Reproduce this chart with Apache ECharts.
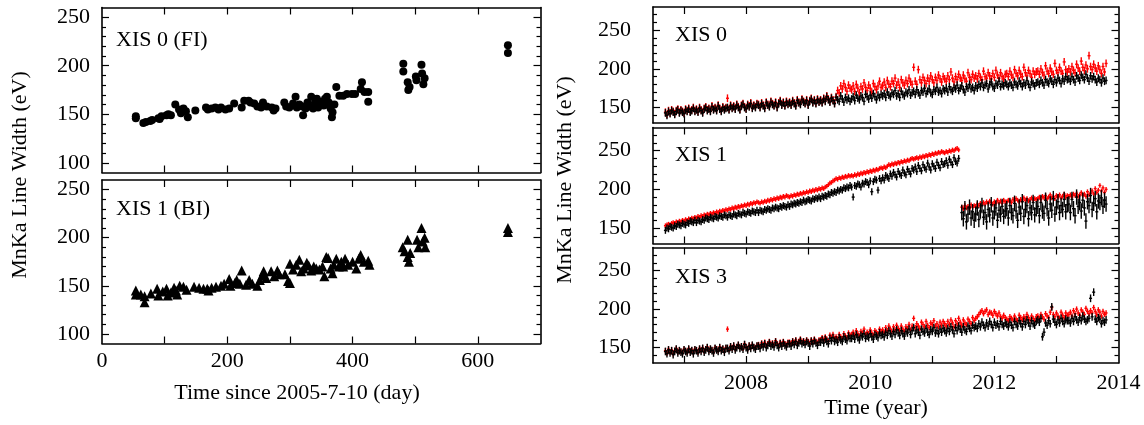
<!DOCTYPE html>
<html><head><meta charset="utf-8">
<script src="https://cdn.jsdelivr.net/npm/echarts@6/dist/echarts.min.js"></script>
<style>html,body{margin:0;padding:0;background:#fff}#chart{width:1144px;height:425px}</style>
</head><body><div id="chart"></div><script>
// ---------- Left panels: MnKa line width vs days since 2005-7-10 ----------
const xis0FiPoints = [[54,148],[54,146],[66,141],[70,142],[77,143],[80,144],[90,146],[92,145],[95,148],[103,149],[106,150],[110,149],[117,160],[123,155],[126,151],[130,156],[134,153],[137,147],[149,154],[166,157],[169,155],[175,156],[181,157],[186,155],[190,157],[197,155],[203,156],[211,161],[223,157],[227,164],[234,164],[237,162],[243,161],[248,158],[254,157],[257,162],[263,158],[271,157],[274,154],[277,156],[291,162],[294,158],[299,157],[305,161],[309,168],[311,157],[315,160],[320,158],[321,149],[325,156],[328,162],[331,158],[334,168],[337,156],[340,162],[343,166],[345,157],[348,163],[351,162],[354,159],[356,166],[359,168],[360,160],[362,162],[365,156],[368,152],[367,147],[371,160],[374,178],[379,169],[385,169],[391,171],[399,171],[404,171],[413,176],[419,173],[415,183],[425,163],[425,173],[481,202],[481,194],[488,183],[489,175],[491,178],[501,189],[502,185],[510,201],[511,192],[513,181],[515,187],[648,221],[648,213]];
const xis1BiPoints = [[54,145],[54,141],[62,141],[68,133],[68,139],[78,142],[88,147],[90,140],[97,144],[103,147],[105,140],[110,143],[115,148],[118,145],[120,141],[124,150],[130,149],[135,146],[147,149],[155,148],[162,147],[168,147],[170,145],[175,148],[182,149],[190,150],[195,152],[203,157],[205,150],[212,153],[215,156],[220,152],[223,166],[230,151],[235,156],[240,152],[248,150],[252,156],[256,161],[258,165],[262,158],[270,165],[275,160],[280,166],[283,162],[292,162],[297,155],[300,153],[300,173],[305,167],[310,172],[315,177],[318,165],[322,168],[327,174],[330,171],[334,166],[338,170],[342,168],[347,167],[352,170],[355,160],[358,180],[361,179],[365,168],[368,163],[370,172],[374,178],[378,170],[382,175],[385,170],[388,178],[393,172],[400,175],[406,168],[410,178],[413,182],[418,175],[425,176],[427,172],[480,190],[483,186],[488,198],[488,180],[490,175],[492,184],[503,198],[505,190],[510,210],[512,196],[515,200],[516,190],[648,210],[648,206]];

// ---------- Right panels: observation times (year) ----------
const obsTimes = [
2006.700,2006.725,2006.750,2006.775,2006.800,2006.825,2006.850,2006.875,2006.900,2006.925,2006.950,2006.975,2007.000,2007.025,2007.050,2007.075,2007.100,2007.125,2007.150,2007.175,
2007.200,2007.225,2007.250,2007.275,2007.300,2007.325,2007.350,2007.375,2007.400,2007.425,2007.450,2007.475,2007.500,2007.525,2007.550,2007.575,2007.600,2007.625,2007.650,2007.675,
2007.700,2007.725,2007.750,2007.775,2007.800,2007.825,2007.850,2007.875,2007.900,2007.925,2007.950,2007.975,2008.000,2008.025,2008.050,2008.075,2008.100,2008.125,2008.150,2008.175,
2008.200,2008.225,2008.250,2008.275,2008.300,2008.325,2008.350,2008.375,2008.400,2008.425,2008.450,2008.475,2008.500,2008.525,2008.550,2008.575,2008.600,2008.625,2008.650,2008.675,
2008.700,2008.725,2008.750,2008.775,2008.800,2008.825,2008.850,2008.875,2008.900,2008.925,2008.950,2008.975,2009.000,2009.025,2009.050,2009.075,2009.100,2009.125,2009.150,2009.175,
2009.200,2009.225,2009.250,2009.275,2009.300,2009.325,2009.350,2009.375,2009.400,2009.425,2009.450,2009.475,2009.500,2009.525,2009.550,2009.575,2009.600,2009.625,2009.650,2009.675,
2009.700,2009.725,2009.750,2009.775,2009.800,2009.825,2009.850,2009.875,2009.900,2009.925,2009.950,2009.975,2010.000,2010.025,2010.050,2010.075,2010.100,2010.125,2010.150,2010.175,
2010.200,2010.225,2010.250,2010.275,2010.300,2010.325,2010.350,2010.375,2010.400,2010.425,2010.450,2010.475,2010.500,2010.525,2010.550,2010.575,2010.600,2010.625,2010.650,2010.675,
2010.700,2010.725,2010.750,2010.775,2010.800,2010.825,2010.850,2010.875,2010.900,2010.925,2010.950,2010.975,2011.000,2011.025,2011.050,2011.075,2011.100,2011.125,2011.150,2011.175,
2011.200,2011.225,2011.250,2011.275,2011.300,2011.325,2011.350,2011.375,2011.400,2011.425,2011.450,2011.475,2011.500,2011.525,2011.550,2011.575,2011.600,2011.625,2011.650,2011.675,
2011.700,2011.725,2011.750,2011.775,2011.800,2011.825,2011.850,2011.875,2011.900,2011.925,2011.950,2011.975,2012.000,2012.025,2012.050,2012.075,2012.100,2012.125,2012.150,2012.175,
2012.200,2012.225,2012.250,2012.275,2012.300,2012.325,2012.350,2012.375,2012.400,2012.425,2012.450,2012.475,2012.500,2012.525,2012.550,2012.575,2012.600,2012.625,2012.650,2012.675,
2012.700,2012.725,2012.750,2012.775,2012.800,2012.825,2012.850,2012.875,2012.900,2012.925,2012.950,2012.975,2013.000,2013.025,2013.050,2013.075,2013.100,2013.125,2013.150,2013.175,
2013.200,2013.225,2013.250,2013.275,2013.300,2013.325,2013.350,2013.375,2013.400,2013.425,2013.450,2013.475,2013.500,2013.525,2013.550,2013.575,2013.600,2013.625,2013.650,2013.675,
2013.700,2013.725,2013.750,2013.775,2013.800];

const xis0Black = [
143,140,145,142,146,144,141,145,147,143,146,144,142,147,145,148,144,146,149,145,
147,144,149,146,143,148,150,146,148,145,151,147,149,146,152,148,145,150,147,149,
150,147,152,149,151,148,153,150,147,152,154,150,148,153,151,155,149,152,150,154,
153,150,155,152,149,156,153,151,157,154,152,156,150,155,158,153,156,152,157,154,
156,153,158,155,152,159,156,154,160,157,155,159,153,158,161,156,159,155,160,157,
159,156,161,158,164,160,157,162,159,155,163,160,158,165,161,157,163,160,162,158,
161,164,159,166,162,160,165,163,158,167,164,161,166,162,168,164,160,166,163,167,
165,168,163,170,166,164,169,167,172,165,168,163,171,167,165,170,168,173,166,169,
171,167,173,169,166,172,170,175,168,171,174,169,167,173,171,176,170,172,168,174,
172,175,170,177,173,171,176,174,179,172,175,178,173,170,177,175,180,174,176,172,
178,175,180,177,182,176,179,181,174,180,183,177,175,181,179,184,177,180,178,182,
180,177,182,179,176,183,180,178,184,181,177,182,179,185,180,176,183,181,178,182,
183,180,185,182,179,186,183,181,187,184,180,186,182,188,185,181,187,184,190,186,
187,184,190,186,183,191,188,185,192,189,186,193,188,184,191,187,190,186,183,188,
186,182,188,184,185];
const xis0Red = [
144,141,146,143,147,145,142,146,148,144,147,145,143,148,146,149,145,147,150,146,
148,145,150,147,144,149,151,147,149,146,152,148,150,147,153,149,146,151,148,150,
162,148,153,150,152,149,154,151,148,153,155,151,149,154,152,156,150,153,151,155,
154,151,156,153,150,157,154,152,158,155,153,157,151,156,159,154,157,153,158,155,
157,154,159,156,153,160,157,155,161,158,156,160,154,159,162,157,160,156,161,158,
160,157,162,159,165,161,158,163,160,156,164,172,169,178,174,181,176,171,179,175,
173,178,171,180,175,169,177,174,182,176,172,179,175,170,181,177,173,178,184,176,
178,183,176,185,180,177,184,181,188,179,183,176,186,182,179,185,181,188,183,180,
202,184,180,199,186,182,189,185,181,188,184,191,186,182,189,185,192,187,183,190,
187,184,191,186,196,188,183,190,186,193,188,185,192,187,184,195,189,186,193,188,
191,187,194,189,186,197,190,188,195,191,187,194,189,198,192,188,195,190,187,193,
194,190,197,192,189,199,194,191,198,193,190,202,195,191,198,194,189,197,193,196,
197,193,200,195,192,204,197,194,201,196,193,207,198,195,202,197,194,209,199,196,
200,196,203,198,195,206,201,197,210,202,198,205,200,217,203,199,206,201,197,204,
199,194,203,196,207];

const xis1Black = [
147,150,149,152,151,150,153,152,155,154,153,156,155,154,157,156,159,158,157,160,
157,160,159,158,161,160,163,162,161,164,163,162,165,164,163,166,165,164,167,166,
164,167,166,165,168,167,166,169,168,167,170,169,168,171,170,169,172,171,170,173,
170,173,172,171,174,173,175,174,173,176,175,177,176,175,178,177,179,178,177,180,
178,181,180,182,181,183,182,184,183,186,184,185,187,186,185,188,187,189,188,190,
188,191,190,192,191,194,193,196,195,197,196,199,198,200,199,202,201,203,202,205,
203,190,205,204,207,206,203,208,207,210,209,206,211,197,210,213,212,199,214,211,
215,212,218,216,214,220,217,222,219,216,223,220,218,225,221,219,226,223,220,227,
225,229,223,231,227,224,232,228,226,234,229,225,233,230,227,235,231,228,236,232,
233,237,231,239,235,232,241,236,234,240,null,170,162,175,158,168,177,163,171,160,
168,176,161,172,179,164,170,158,174,167,180,163,171,176,160,173,168,178,165,172,
175,163,179,170,166,182,172,160,177,169,184,165,174,179,162,176,170,183,167,175,
178,166,183,172,169,186,175,163,181,173,188,168,177,184,170,179,174,187,171,180,
181,170,187,175,166,190,178,183,172,186,176,159,184,179,192,174,182,188,171,185,
183,189,178,186,181];
const xis1Red = [
153,154,155,154,156,157,156,158,157,159,158,160,159,161,160,162,161,163,162,164,
163,165,164,166,165,167,166,168,167,169,168,170,169,171,170,172,171,173,172,174,
173,175,174,176,175,177,176,178,177,179,178,180,179,181,180,182,181,183,182,184,
183,182,184,183,185,184,186,185,187,186,188,187,189,188,190,189,191,190,192,191,
190,192,191,193,192,194,193,195,194,196,195,197,196,198,197,199,198,200,199,201,
200,202,201,203,204,206,208,209,211,212,214,213,215,214,216,215,217,216,218,217,
218,217,219,218,220,219,221,220,222,221,223,222,224,223,225,224,226,225,227,228,
227,229,228,230,232,231,233,232,234,233,235,234,236,235,237,236,238,237,239,240,
239,240,241,240,242,241,243,242,244,243,245,244,246,245,247,246,248,247,249,248,
247,249,248,250,249,251,250,252,253,251,null,177,175,179,176,178,175,180,177,179,
178,181,179,182,180,183,181,184,182,185,183,181,184,182,186,183,185,182,186,184,
184,186,185,183,187,185,188,186,184,187,185,189,186,188,185,187,189,186,188,187,
188,190,187,191,189,192,188,190,193,189,191,188,192,190,193,189,191,194,190,192,
191,193,190,194,192,195,191,193,196,192,194,191,197,193,195,198,194,201,196,199,
205,198,202,196,200];

const xis3Black = [
145,142,147,143,146,141,145,148,143,146,144,142,147,145,143,148,144,146,142,147,
146,143,148,145,149,144,147,150,145,148,146,143,149,147,145,150,146,148,144,149,
149,146,151,148,152,147,150,153,149,151,148,154,150,147,152,149,153,150,148,152,
152,149,154,151,155,150,153,156,152,154,151,157,153,150,155,152,156,153,151,155,
155,152,157,154,158,153,156,159,155,157,154,158,156,152,158,155,159,156,153,157,
157,160,156,161,158,155,162,159,163,158,160,157,163,160,158,164,161,159,165,162,
162,165,161,167,163,160,166,164,168,162,165,163,168,164,161,167,165,163,169,166,
167,164,170,166,172,168,165,171,167,173,169,166,172,168,165,171,169,174,167,172,
176,168,173,170,166,174,171,169,175,170,167,173,171,176,169,172,168,174,170,175,
172,169,175,171,177,173,168,176,172,178,174,170,177,173,171,178,175,172,179,176,
178,175,181,177,183,179,176,182,178,184,180,176,183,179,181,177,184,180,178,182,
180,177,183,179,176,184,180,178,185,181,177,184,180,186,182,178,185,181,179,184,
186,183,188,164,170,182,179,185,181,203,187,183,180,186,182,188,184,181,187,185,
185,182,188,184,190,186,183,189,185,191,187,184,186,188,214,190,222,187,184,189,
187,181,185,183,186];
const xis3Red = [
146,143,148,144,147,142,146,149,144,147,145,143,148,146,144,149,145,147,143,148,
147,144,149,146,150,145,148,151,146,149,147,144,150,148,146,151,147,149,145,150,
174,147,152,149,153,148,151,154,150,152,149,155,151,148,153,150,154,151,149,153,
154,151,156,153,157,152,155,158,154,156,153,159,155,152,157,154,158,155,153,157,
157,155,159,156,160,155,158,161,157,159,156,160,158,155,160,157,161,158,156,160,
160,163,159,164,161,158,166,163,167,162,164,161,167,164,162,168,165,163,169,166,
167,170,166,172,168,165,171,169,174,167,170,168,173,169,166,172,170,168,174,171,
173,170,176,172,178,174,171,177,173,179,175,172,178,174,171,177,175,180,173,178,
188,176,181,178,175,183,180,177,184,179,176,182,180,185,178,181,177,183,179,184,
181,178,184,180,186,182,177,185,181,188,183,179,186,182,180,187,184,181,189,185,
188,190,193,196,198,194,197,199,193,196,195,192,197,194,191,195,190,188,192,189,
187,185,190,188,186,191,187,185,192,189,186,190,188,193,189,186,191,188,185,190,
191,188,193,190,187,194,191,189,196,202,193,190,195,191,188,196,192,189,195,192,
193,196,191,198,194,200,195,192,199,196,193,201,197,194,198,195,202,197,193,199,
196,191,197,193,195];

// error half-widths (eV)
const xis0BlackErr = 5, xis0RedErr = 5;
const xis1BlackErr = 4.5, xis1BlackErrLate = 10, xis1RedErr = 3;
const xis3BlackErr = 5, xis3RedErr = 3.5;
const xis1ResetYear = 2011.45;

// ---------- Axis ticks / labels ----------
const leftDayTicks = [100,200,300,400,500,600];
const leftDayLabels = [0,200,400,600];
const leftWidthMajor = [100,150,200,250];
const leftWidthMinor = [110,120,130,140,160,170,180,190,210,220,230,240];
const rightYearTicks = [2007,2008,2009,2010,2011,2012,2013];
const rightYearLabels = [2008,2010,2012,2014];
const rightWidthMajor = [150,200,250];
const rightWidthMinor = [140,160,170,180,190,210,220,230,240,260,270];

// ---------- Build option ----------
const FONT = 'Liberation Serif';
const FS = 22;
const grids = [
  {left:102, top:7.5, width:438.5, height:165},
  {left:102, top:180, width:438.5, height:163.5},
  {left:653, top:7, width:465.5, height:116},
  {left:653, top:127.5, width:465.5, height:116},
  {left:653, top:247.5, width:465.5, height:115.5}
];
const boxLine = {show:true, onZero:false, lineStyle:{color:'#000', width:1.6}};
const noLine = {show:false, onZero:false};
const tickStyle = {color:'#000', width:1.2};

const xAxes = [], yAxes = [];
grids.forEach((g, i) => {
  const isLeft = i < 2;
  const showLabels = (i === 1 || i === 4);
  const xmin = isLeft ? 0 : 2006.5, xmax = isLeft ? 700 : 2014;
  const xt = isLeft ? leftDayTicks : rightYearTicks;
  const xl = isLeft ? leftDayLabels : rightYearLabels;
  ['bottom','top'].forEach(pos => {
    xAxes.push({
      gridIndex:i, type:'value', position:pos, min:xmin, max:xmax,
      axisLine:boxLine,
      axisTick:{show:true, inside:true, length:7, customValues:xt, lineStyle:tickStyle},
      axisLabel:(showLabels && pos === 'bottom') ? {customValues:xl, formatter:v=>String(v), margin:isLeft?7:9, fontFamily:FONT, fontSize:FS, color:'#000'} : {show:false},
      splitLine:{show:false}
    });
  });
  const ymin = isLeft ? 90 : 130, ymax = isLeft ? 260 : 280;
  const maj = isLeft ? leftWidthMajor : rightWidthMajor;
  const mnr = isLeft ? leftWidthMinor : rightWidthMinor;
  ['left','right'].forEach(pos => {
    yAxes.push({
      gridIndex:i, type:'value', position:pos, min:ymin, max:ymax,
      axisLine:boxLine,
      axisTick:{show:true, inside:true, length:7, customValues:maj, lineStyle:tickStyle},
      axisLabel:(pos === 'left') ? {customValues:maj, formatter:v=>String(v), margin:isLeft?12:22, fontFamily:FONT, fontSize:FS, color:'#000'} : {show:false},
      splitLine:{show:false}
    });
    yAxes.push({
      gridIndex:i, type:'value', position:pos, min:ymin, max:ymax,
      axisLine:noLine,
      axisTick:{show:true, inside:true, length:4, customValues:mnr, lineStyle:tickStyle},
      axisLabel:{show:false}, splitLine:{show:false}
    });
  });
});

function errData(values, errFn) {
  const out = [];
  values.forEach((v, k) => {
    if (v === null || v === undefined || k >= obsTimes.length) return;
    const t = obsTimes[k];
    out.push([t, v, errFn(t)]);
  });
  return out;
}
function errSeries(gridIdx, values, errFn, color) {
  return {
    type:'custom', coordinateSystem:'cartesian2d',
    xAxisIndex:gridIdx*2, yAxisIndex:gridIdx*4,
    encode:{x:0, y:1},
    data: errData(values, errFn),
    silent:true,
    renderItem:(params, api) => {
      const t = api.value(0), v = api.value(1), e = api.value(2);
      const a = api.coord([t, v + e]), b = api.coord([t, v - e]), m = api.coord([t, v]);
      return {type:'group', children:[
        {type:'line', shape:{x1:a[0], y1:a[1], x2:b[0], y2:b[1]}, style:{stroke:color, lineWidth:1.4}},
        {type:'line', shape:{x1:m[0]-1.5, y1:m[1], x2:m[0]+1.5, y2:m[1]}, style:{stroke:color, lineWidth:1.4}}
      ]};
    }
  };
}

const series = [
  {type:'scatter', xAxisIndex:0, yAxisIndex:0, data:xis0FiPoints, symbol:'circle', symbolSize:8, itemStyle:{color:'#000', opacity:1}, silent:true},
  {type:'scatter', xAxisIndex:2, yAxisIndex:4, data:xis1BiPoints, symbol:'triangle', symbolSize:10, itemStyle:{color:'#000', opacity:1}, silent:true},
  errSeries(2, xis0Red, () => xis0RedErr, '#ff0000'),
  errSeries(2, xis0Black, () => xis0BlackErr, '#000000'),
  errSeries(3, xis1Red, () => xis1RedErr, '#ff0000'),
  errSeries(3, xis1Black, t => (t > xis1ResetYear ? xis1BlackErrLate : xis1BlackErr), '#000000'),
  errSeries(4, xis3Red, () => xis3RedErr, '#ff0000'),
  errSeries(4, xis3Black, () => xis3BlackErr, '#000000')
];

const font = FS + 'px "' + FONT + '"';
const txt = (text, x, y) => ({type:'text', x:x, y:y, silent:true,
  style:{text:text, font:font, fill:'#000', align:'left', verticalAlign:'middle'}});
const graphic = [
  txt('XIS 0 (FI)', 116, 40),
  txt('XIS 1 (BI)', 116, 209),
  txt('XIS 0', 675, 35),
  txt('XIS 1', 675, 155),
  txt('XIS 3', 675, 277),
  {type:'text', x:297, y:393, silent:true, style:{text:'Time since 2005-7-10 (day)', font:font, fill:'#000', align:'center', verticalAlign:'middle'}},
  {type:'text', x:876, y:408, silent:true, style:{text:'Time (year)', font:font, fill:'#000', align:'center', verticalAlign:'middle'}},
  {type:'text', x:20, y:175, rotation:Math.PI/2, silent:true, style:{text:'MnKa Line Width (eV)', font:font, fill:'#000', align:'center', verticalAlign:'middle'}},
  {type:'text', x:565, y:180, rotation:Math.PI/2, silent:true, style:{text:'MnKa Line Width (eV)', font:font, fill:'#000', align:'center', verticalAlign:'middle'}}
];

const chart = echarts.init(document.getElementById('chart'), null, {renderer:'canvas'});
chart.setOption({
  animation:false,
  backgroundColor:'#ffffff',
  grid:grids,
  xAxis:xAxes,
  yAxis:yAxes,
  series:series,
  graphic:graphic
});
</script></body></html>
